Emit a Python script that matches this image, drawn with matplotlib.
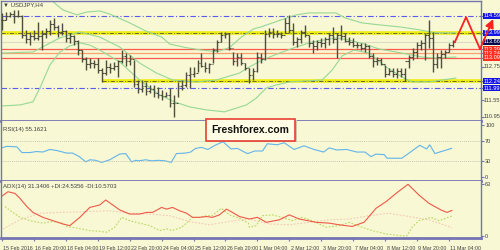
import numpy as np
import matplotlib.pyplot as plt
import matplotlib.transforms as mtransforms

# USDJPY H4 bars (index 0 = 15 Feb 2016 12:00)
highs = [114.70, 114.73, 114.73, 114.81, 114.81, 114.63, 114.08, 114.01, 114.08, 114.37,
         114.08, 114.16, 114.45, 114.52, 114.27, 114.34, 114.08, 113.98, 113.90, 113.72,
         113.36, 113.11, 113.07, 113.00, 113.07, 112.71, 113.00, 112.89, 112.93, 113.00,
         113.36, 113.25, 113.18, 113.00, 112.28, 112.28, 112.21, 112.10, 112.10, 112.03,
         111.92, 111.85, 111.99, 111.74, 112.21, 112.28, 112.57, 112.75, 112.75, 113.00,
         113.25, 112.93, 112.89, 113.43, 113.72, 114.01, 114.01, 113.98, 113.29, 113.25,
         113.25, 112.89, 112.71, 112.71, 113.29, 113.25, 114.08, 114.16, 114.16, 114.08,
         114.01, 114.52, 114.63, 114.34, 113.83, 114.08, 114.27, 113.90, 113.72, 113.72,
         113.80, 113.83, 113.98, 114.19, 113.98, 114.27, 113.98, 113.83, 113.80, 113.65,
         113.62, 113.62, 113.54, 113.25, 113.11, 113.07, 112.82, 112.71, 112.71, 112.71,
         112.71, 112.71, 113.18, 113.43, 113.65, 113.72, 113.98, 114.45, 114.01, 113.25,
         113.36, 113.36, 113.62, 113.72]
lows = [114.08, 114.45, 114.55, 114.34, 114.55, 113.80, 113.62, 113.54, 113.72, 113.72,
        113.36, 113.80, 113.90, 114.08, 113.83, 113.90, 113.65, 113.62, 113.54, 113.18,
        112.93, 112.64, 112.71, 112.71, 112.53, 112.21, 112.46, 112.53, 112.64, 112.39,
        112.89, 112.79, 112.82, 112.03, 111.81, 111.85, 111.74, 111.81, 111.67, 111.63,
        111.56, 111.67, 111.31, 110.94, 111.67, 111.92, 112.03, 111.99, 112.39, 112.57,
        112.75, 112.57, 112.53, 112.89, 113.29, 113.65, 113.80, 113.36, 112.82, 112.79,
        112.82, 112.64, 112.17, 112.28, 112.57, 112.89, 113.00, 113.83, 113.80, 113.83,
        113.80, 113.98, 113.98, 113.54, 113.47, 113.62, 113.83, 113.47, 113.25, 113.36,
        113.47, 113.43, 113.54, 113.62, 113.07, 113.72, 113.65, 113.54, 113.47, 113.43,
        113.36, 113.29, 113.07, 112.75, 112.82, 112.82, 112.39, 112.46, 112.39, 112.35,
        112.39, 112.24, 112.71, 113.00, 113.07, 113.36, 113.00, 113.43, 112.57, 112.71,
        112.71, 113.07, 113.29, 113.47]
closes = [114.45, 114.60, 114.65, 114.60, 114.60, 113.90, 113.75, 113.85, 113.80, 113.85,
          113.95, 114.05, 114.30, 114.20, 114.00, 114.05, 113.80, 113.85, 113.70, 113.35,
          113.05, 112.85, 112.90, 112.85, 112.65, 112.55, 112.75, 112.70, 112.80, 112.95,
          113.15, 112.95, 113.05, 112.15, 111.95, 112.05, 111.90, 111.95, 111.80, 111.75,
          111.70, 111.75, 111.45, 111.45, 112.05, 112.10, 112.45, 112.50, 112.55, 112.90,
          112.80, 112.70, 112.85, 113.35, 113.65, 113.90, 113.95, 113.45, 112.95, 113.10,
          112.90, 112.70, 112.45, 112.60, 113.10, 113.05, 113.95, 114.00, 113.95, 113.95,
          113.90, 114.35, 114.10, 113.65, 113.75, 114.00, 113.90, 113.60, 113.50, 113.65,
          113.60, 113.75, 113.90, 113.75, 113.90, 113.85, 113.70, 113.65, 113.55, 113.55,
          113.45, 113.50, 113.15, 112.95, 113.00, 112.85, 112.50, 112.60, 112.50, 112.60,
          112.50, 112.95, 113.10, 113.30, 113.55, 113.60, 113.90, 113.80, 112.85, 113.10,
          113.20, 113.30, 113.55, 113.66]

# Bollinger bands read at a few bars (bar index, price)
bb_upper = [(10.8, 115.35), (15.2, 114.81), (18.8, 114.63), (21.2, 114.73), (24.5, 114.77),
            (27, 114.66), (32, 114.34), (36, 114.05), (40, 113.83), (42, 113.58), (46, 113.45),
            (50, 113.36), (54, 113.30), (57, 113.45), (60, 113.83), (63, 114.12), (65, 114.20),
            (70, 114.45), (73.7, 114.63), (77, 114.70), (83.7, 114.70), (86, 114.52),
            (90.2, 114.34), (94.5, 114.27), (100, 114.19), (105, 114.08), (108.7, 113.98),
            (113.7, 113.98)]
bb_mid = [(-0.5, 113.25), (7.75, 113.29), (14.5, 113.80), (19.5, 114.01), (24.5, 113.83),
          (29.5, 113.47), (34.5, 112.89), (38.75, 112.53), (42.75, 112.28), (48.75, 112.21),
          (53.75, 112.28), (59.5, 112.53), (62, 112.75), (65.25, 113.00), (69.5, 113.25),
          (73.75, 113.47), (77.75, 113.65), (83.75, 113.80), (87, 113.72), (90.75, 113.58),
          (94.5, 113.40), (100.25, 113.25), (105.25, 113.11), (108.75, 113.07), (113.75, 113.11)]
bb_lower = [(-0.5, 111.34), (4.5, 111.38), (7.75, 111.49), (9.5, 111.99), (12, 112.82),
            (14.5, 113.29), (17, 113.51), (19.5, 113.62), (22, 113.54), (24.5, 113.36),
            (29.5, 112.93), (34.5, 112.28), (39.5, 111.74), (43.25, 111.49), (47, 111.31),
            (51.25, 111.20), (55.75, 111.13), (61.25, 111.38), (63.75, 111.63), (66.25, 111.99),
            (68.75, 112.10), (72, 112.21), (80.25, 112.28), (82.75, 112.64), (85.25, 113.15),
            (88.25, 113.36), (92, 113.25), (96.25, 112.75), (100.25, 112.39), (102.75, 112.21),
            (107, 112.21), (113.75, 112.35)]

rsi = [(-0.5, 55), (1.2, 59), (3.7, 58), (5, 47), (7, 47), (8.7, 49), (10.2, 48), (12, 53),
       (13.7, 51), (16.2, 46), (17.7, 46), (19.4, 39), (21, 29), (22, 33), (23.5, 32), (25, 28),
       (27, 33), (29.5, 44), (31, 45), (32.5, 29), (33.5, 32), (34.3, 31), (36, 33), (37.5, 31),
       (39.2, 32), (40.9, 31), (42.4, 28), (43.7, 45), (46, 46), (47.3, 48), (48.5, 55), (50, 57),
       (51.6, 53), (53.4, 61), (55.4, 68), (57.4, 54), (59, 55), (61, 47), (61.6, 45), (63.3, 50),
       (65.3, 50), (66.5, 64), (69, 62), (70.7, 66), (73.2, 53), (75.7, 60), (78.2, 53), (80.6, 48),
       (82, 56), (83.9, 52), (86.4, 53), (88.9, 48), (91, 48), (92.5, 39), (93.7, 44), (95.8, 43),
       (96.5, 36), (100.2, 36), (102.2, 47), (104.7, 61), (106.4, 54), (107.2, 62), (108.5, 45),
       (109.7, 48), (111.4, 52), (112.7, 55.16)]

adx = [(-0.5, 47), (1.5, 54), (3.25, 52), (4.5, 46), (6.25, 36), (7.75, 29), (10.25, 23),
       (12.75, 19), (15.25, 15), (17, 13), (19.5, 23), (22, 35), (24.5, 38), (26, 44), (27.75, 38),
       (29.5, 32), (32, 27), (34.5, 27), (36.25, 29), (37.75, 29), (40, 35), (41.25, 33),
       (42.75, 35), (44.5, 31), (46.25, 28), (47.75, 23), (49.5, 23), (51.25, 24), (52.75, 23),
       (54.5, 26), (56.25, 33), (57.75, 29), (59.5, 24), (62, 21), (64, 23), (66.25, 17),
       (69.5, 20), (72, 26), (74.5, 21), (78.75, 17), (82, 16), (84.5, 14), (87.75, 12),
       (90.75, 17), (93.75, 34), (96.25, 42), (98.75, 52), (101.75, 63), (104.5, 50), (107, 40),
       (110, 32), (111.5, 29), (112.75, 31.34)]
plus_di = [(0.75, 36), (2.75, 29), (4.5, 23), (7, 19), (10.25, 16), (12.75, 18), (15.25, 16),
           (16.25, 12), (18.75, 10), (22, 7), (24.5, 6), (26.25, 5), (28.25, 11), (30, 23),
           (32, 19), (34.5, 16), (37, 13), (39.5, 7), (41.25, 9), (42.75, 7), (45, 11), (46.25, 16),
           (47.75, 23), (49.5, 23), (51.25, 25), (52.75, 25), (55, 34), (57, 26), (59.5, 22),
           (61.75, 16), (62, 11), (63.75, 13), (65.25, 25), (67.75, 26), (70.25, 23), (72.75, 19),
           (75.25, 23), (77.75, 19), (81.25, 11), (84.5, 13), (87, 17), (90.25, 11), (92.75, 7),
           (96.25, 3), (99.5, 1), (101.5, 0.5), (102.75, 11), (104.5, 19), (107.5, 23),
           (109.5, 19), (112.75, 24.54)]
minus_di = [(-0.5, 7), (4.5, 20), (9.5, 28), (14.5, 29), (22, 30), (26.5, 31), (32, 28),
            (37, 27), (42, 25), (47, 18), (52, 14), (57, 18), (62, 21), (67, 15), (72, 14),
            (77, 17), (82, 20), (87, 21), (92, 25), (97, 28), (102, 24), (107, 20), (112.75, 10.57)]

# horizontal levels
blue_levels = [114.59, 111.99]
yellow_levels = [113.99, 112.24]
red_levels = [113.39, 113.24, 113.09]
bid = 113.66
forecast = [(113.5, 113.65), (116.3, 114.55), (119.8, 113.40), (123.1, 114.48)]

price_labels = [("114.59", "#1414e6"), ("113.99", "#1414e6"), ("113.66", "#0a0a50"),
                ("113.39", "#ff3020"), ("113.24", "#ff3020"), ("113.09", "#ff3020"),
                ("112.75", None), ("112.24", "#1414e6"), ("111.99", "#1414e6"),
                ("111.55", None), ("110.95", None)]

date_labels = ["15 Feb 2016", "16 Feb 20:00", "18 Feb 04:00", "19 Feb 12:00", "22 Feb 20:00",
               "24 Feb 04:00", "25 Feb 12:00", "26 Feb 20:00", "1 Mar 04:00", "2 Mar 12:00",
               "3 Mar 20:00", "7 Mar 04:00", "8 Mar 12:00", "9 Mar 20:00", "11 Mar 04:00"]

bg = "#f8f8d4"
frame = "#7474b4"
txt_col = "#404040"
small = ["Liberation Sans Narrow", "Liberation Sans", "DejaVu Sans"]

fig = plt.figure(figsize=(5, 2.5), dpi=100, facecolor=bg)
ax1 = fig.add_axes([0.002, 0.516, 0.96, 0.48])
ax2 = fig.add_axes([0.002, 0.276, 0.96, 0.24], sharex=ax1)
ax3 = fig.add_axes([0.002, 0.048, 0.96, 0.228], sharex=ax1)

for ax in (ax1, ax2, ax3):
    ax.set_facecolor(bg)
    for s in ax.spines.values():
        s.set_color(frame)
        s.set_linewidth(1)
    ax.spines["bottom"].set_linewidth(2)
    ax.yaxis.set_ticks_position("right")
    ax.tick_params(axis="y", length=2, color=frame, labelsize=4.0, labelcolor=txt_col, pad=1)
    ax.tick_params(axis="x", length=2, color=frame, bottom=True)
ax2.spines["top"].set_visible(False)
ax3.spines["top"].set_visible(False)

idx = np.arange(len(highs))
ax1.set_xlim(-0.25, 120.05)
ax1.set_ylim(110.80, 115.13)

# levels
for lv in blue_levels:
    ax1.axhline(lv, color="#5a5af0", lw=0.8, ls=(0, (5, 2, 1, 2)), zorder=1)
ax1.axhline(yellow_levels[0], color="#eeee10", lw=2.6, zorder=1)
ax1.axhline(yellow_levels[0], color="#55553a", lw=0.6, ls=(0, (5, 2, 1, 2)), zorder=1.1)
ax1.hlines(yellow_levels[1], 25, 120.05, color="#eeee10", lw=2.6, zorder=1)
ax1.hlines(yellow_levels[1], 25, 120.05, color="#55553a", lw=0.6, ls=(0, (5, 2, 1, 2)), zorder=1.1)
ax1.axhline(bid, color="#dcdcc4", lw=0.8, zorder=1)
for lv, c in zip(red_levels, ["#ff5a50", "#ffa070", "#ff5a50"]):
    ax1.axhline(lv, color=c, lw=0.9, zorder=1)

# bollinger bands
for band in (bb_upper, bb_mid, bb_lower):
    bx, by = zip(*band)
    ax1.plot(bx, by, color="#96d896", lw=0.8, zorder=1.5)

# OHLC bars
opens = [closes[0]] + closes[:-1]
bar_col = "#4e4e3c"
ax1.vlines(idx, lows, highs, color=bar_col, lw=1, zorder=3)
ax1.hlines(closes, idx, idx + 0.45, color=bar_col, lw=0.8, zorder=3)
ax1.hlines(opens, idx - 0.45, idx, color=bar_col, lw=0.8, zorder=3)

# forecast zigzag
fx, fy = zip(*forecast)
ax1.plot(fx[:3], fy[:3], color="#ff2020", lw=1.3, clip_on=False, zorder=10)
ax1.annotate("", xy=forecast[3], xytext=forecast[2], annotation_clip=False, zorder=10,
             arrowprops=dict(arrowstyle="-|>,head_width=0.25,head_length=0.5",
                             color="#ff2020", lw=1.3, shrinkA=0, shrinkB=0))

# right price labels
ax1.set_yticks([float(t) for t, _ in price_labels])
ax1.set_yticklabels([])
tr = mtransforms.blended_transform_factory(ax1.transAxes, ax1.transData)
for t, c in price_labels:
    kw = dict(transform=tr, fontsize=4.1, va="center", ha="left", family=small, zorder=5)
    if c:
        ax1.text(1.005, float(t), t, color="white",
                 bbox=dict(boxstyle="square,pad=0.1", fc=c, ec="none"), **kw)
    else:
        ax1.text(1.005, float(t), t, color=txt_col, **kw)
ax1.text(0.004, 0.965, "\u25bc USDJPY,H4", transform=ax1.transAxes, fontsize=4.3,
         color=txt_col, va="center", family=small)

# RSI
rx, ry = zip(*rsi)
ax2.plot(rx, ry, color="#62b4ec", lw=0.8)
ax2.set_ylim(-8, 108)
for lv in (70, 30):
    ax2.axhline(lv, color="#b8b8a8", lw=0.5, ls=(0, (1.5, 1.5)))
ax2.set_yticks([100, 70, 30, 0])
ax2.set_yticklabels(["100", "70", "30", "0"], family=small)
ax2.text(0.004, 0.86, "RSI(14) 55.1621", transform=ax2.transAxes, fontsize=4.3,
         color=txt_col, va="center", family=small)

# ADX
for data, col, ls in ((minus_di, "#f4c8b8", (0, (1.5, 1.5))),
                      (plus_di, "#b8d860", (0, (1.5, 1.5))),
                      (adx, "#f05848", "-")):
    dx, dy = zip(*data)
    ax3.plot(dx, dy, color=col, lw=0.8, ls=ls)
ax3.set_ylim(-2, 67)
ax3.set_yticks([63, 0])
ax3.set_yticklabels(["63", "0"], family=small)
ax3.text(0.004, 0.91, "ADX(14) 31.3406 +DI:24.5356 -DI:10.5703", transform=ax3.transAxes,
         fontsize=4.3, color=txt_col, va="center", family=small)

# x labels
ax3.set_xticks(np.arange(0, 113, 8))
ax3.set_xticklabels(date_labels, fontsize=3.8, color=txt_col, ha="left", family=small)
offset = mtransforms.ScaledTranslation(1.5 / 100, 0, fig.dpi_scale_trans)
for lab in ax3.get_xticklabels():
    lab.set_transform(lab.get_transform() + offset)
plt.setp(ax1.get_xticklabels(), visible=False)
plt.setp(ax2.get_xticklabels(), visible=False)
ax1.tick_params(axis="x", length=0)
ax2.tick_params(axis="x", length=0)

# watermark
fig.text(0.505, 0.476, "Freshforex.com", fontsize=7.5, weight="bold", color=(0, 0, 0, 0),
         ha="center", va="center", family=["Liberation Sans", "DejaVu Sans"],
         bbox=dict(boxstyle="square,pad=0.55", fc="#c8c8b0", ec="none"), zorder=8)
fig.text(0.501, 0.48, "Freshforex.com", fontsize=7.5, weight="bold", color="#101010",
         ha="center", va="center", family=["Liberation Sans", "DejaVu Sans"],
         bbox=dict(boxstyle="square,pad=0.55", fc="#fffde6", ec="#e84030", lw=1.2), zorder=9)

fig.savefig("out.png", dpi=100, facecolor=bg)
